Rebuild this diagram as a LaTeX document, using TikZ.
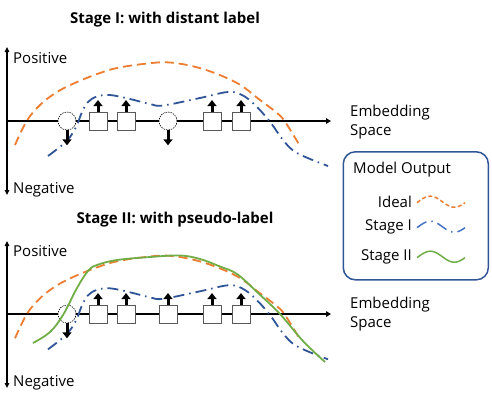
\documentclass[tikz,border=0pt]{standalone}
\usepackage{fontspec}
\setmainfont{Open Sans}
\usetikzlibrary{arrows.meta}
\definecolor{cOrange}{HTML}{ED7D31}
\definecolor{cBlue}{HTML}{2F5597}
\definecolor{cBlueL}{HTML}{4472C4}
\definecolor{cGreen}{HTML}{70AD47}
\begin{document}
\begin{tikzpicture}[x=1bp,y=-1bp,
 txt/.style={font=\fontsize{15bp}{19bp}\selectfont, inner sep=0pt},
 ttl/.style={font=\bfseries\fontsize{15bp}{17bp}\selectfont, inner sep=0pt},
 haxis/.style={line width=1.8bp, -{Triangle[width=5.5bp,length=5bp]}},
 vaxis/.style={line width=1.5bp, {Triangle[width=4.5bp,length=5bp]}-{Triangle[width=4.5bp,length=5bp]}},
 sq/.style={draw=black!65, fill=white, line width=0.9bp, minimum size=18bp, inner sep=0pt},
 cir/.style={circle, draw=black, dash pattern=on 1.5bp off 1bp, line width=0.6bp, fill=white, minimum size=18bp, inner sep=0pt},
 uparr/.style={line width=3bp, -{Triangle[width=9bp,length=6bp]}},
 ideal/.style={cOrange, line width=1.8bp, dash pattern=on 9bp off 5bp},
 stageI/.style={cBlue, line width=1.8bp, dash pattern=on 11bp off 5bp on 1.5bp off 5bp},
 stageII/.style={cGreen, line width=1.8bp},
 legbox/.style={draw=cBlue, line width=1.5bp, rounded corners=12bp, minimum width=145bp, minimum height=128bp, inner sep=0pt},
]
\useasboundingbox (0,0) rectangle (492,404);

% ================= Upper panel =================
\node[ttl] (t1) at (165,20) {Stage I: with distant label};
\coordinate (vt1) at (7,47);
\coordinate (vb1) at (7,195);
\coordinate (ho1) at (7,121);
\coordinate (he1) at (331,121);
\draw[vaxis] (vt1) -- (vb1);
\draw[haxis] (ho1) -- (he1);
\node[txt, anchor=west] (pos1) at (13,58) {Positive};
\node[txt, anchor=west] (neg1) at (13,189.5) {Negative};
\node[txt, anchor=west, align=left] (emb1) at (350,122) {Embedding\\Space};

\node[cir] (c11) at (67,121) {};
\node[cir] (c12) at (168,121) {};

\draw[ideal] plot[smooth, tension=0.6] coordinates {(15,145) (26.7,121) (40,105) (57,92) (77,82) (100,73) (117,68) (143,64) (170,62.5) (203,69) (237,83) (260,100) (277,113) (285,121.7) (300,146)};
\draw[stageI] plot[smooth, tension=0.6] coordinates {(48,156) (61,146) (70,137) (77,125) (82,112) (88,102) (97,96.5) (110,95) (130,99) (150,104) (163,105.5) (200,98) (228,92) (242,95) (255,105) (270,121.7) (283,140) (297,153) (328,166)};

\node[sq] (s11) at (98,121) {};
\node[sq] (s12) at (126,121) {};
\node[sq] (s13) at (212,121) {};
\node[sq] (s14) at (241,121) {};

\draw[uparr] (s11.north) -- ++(0,-11.5);
\draw[uparr] (s12.north) -- ++(0,-11.5);
\draw[uparr] (s13.north) -- ++(0,-11.5);
\draw[uparr] (s14.north) -- ++(0,-11.5);
\draw[uparr] (c11.south) -- ++(0,15);
\draw[uparr] (c12.south) -- ++(0,15);

% ================= Lower panel =================
\node[ttl] (t2) at (175,220) {Stage II: with pseudo-label};
\coordinate (vt2) at (7,241);
\coordinate (vb2) at (7,388);
\coordinate (ho2) at (7,314);
\coordinate (he2) at (331,314);
\draw[vaxis] (vt2) -- (vb2);
\draw[haxis] (ho2) -- (he2);
\node[txt, anchor=west] (pos2) at (13,251) {Positive};
\node[txt, anchor=west] (neg2) at (13,382.5) {Negative};
\node[txt, anchor=west, align=left] (emb2) at (350,314) {Embedding\\Space};

\node[cir] (c21) at (67,314) {};

\begin{scope}[shift={(0,193.3)}]
\draw[ideal] plot[smooth, tension=0.6] coordinates {(15,145) (26.7,121) (40,105) (57,92) (77,82) (100,73) (117,68) (143,64) (170,62.5) (203,69) (237,83) (260,100) (277,113) (285,121.7) (300,146)};
\draw[stageI] plot[smooth, tension=0.6] coordinates {(48,156) (61,146) (70,137) (77,125) (82,112) (88,102) (97,96.5) (110,95) (130,99) (150,104) (163,105.5) (200,98) (228,92) (242,95) (255,105) (270,121.7) (283,140) (297,153) (328,166)};
\end{scope}
\draw[stageII] plot[smooth, tension=0.6] coordinates {(33,343) (50,332) (63,315) (77,288) (88,271) (97,265) (117,260) (150,257) (180,255.5) (200,259) (220,266.5) (237,274) (257,292) (280,314) (303,341) (325,362)};

\node[sq] (s21) at (98,314) {};
\node[sq] (s22) at (126,314) {};
\node[sq] (s23) at (168,314) {};
\node[sq] (s24) at (212,314) {};
\node[sq] (s25) at (241,314) {};

\draw[uparr] (s21.north) -- ++(0,-11.5);
\draw[uparr] (s22.north) -- ++(0,-11.5);
\draw[uparr] (s23.north) -- ++(0,-11.5);
\draw[uparr] (s24.north) -- ++(0,-11.5);
\draw[uparr] (s25.north) -- ++(0,-11.5);
\draw[uparr] (c21.south) -- ++(0,15);

% ================= Legend =================
\node[legbox] (leg) at (415.8,215.8) {};
\node[txt, anchor=west] (mo) at (353,170) {Model Output};
\node[txt, anchor=east] (li) at (412,201.7) {Ideal};
\node[txt, anchor=east] (ls1) at (412,226.7) {Stage I};
\node[txt, anchor=east] (ls2) at (412,256.7) {Stage II};
\draw[cOrange, line width=1.5bp, dash pattern=on 4bp off 2.5bp] plot[domain=417:465, samples=40] (\x, {201.7 - 5.5*sin(((\x-417)/48*360 - 10))});
\draw[cBlueL, line width=1.5bp, dash pattern=on 11bp off 5bp on 1.5bp off 5bp] plot[domain=417:465, samples=40] (\x, {226.7 - 5.5*sin(((\x-417)/48*360 - 10))});
\draw[cGreen, line width=1.5bp] plot[domain=417:465, samples=40] (\x, {256.7 - 5.5*sin(((\x-417)/48*360 - 10))});
\end{tikzpicture}
\end{document}
